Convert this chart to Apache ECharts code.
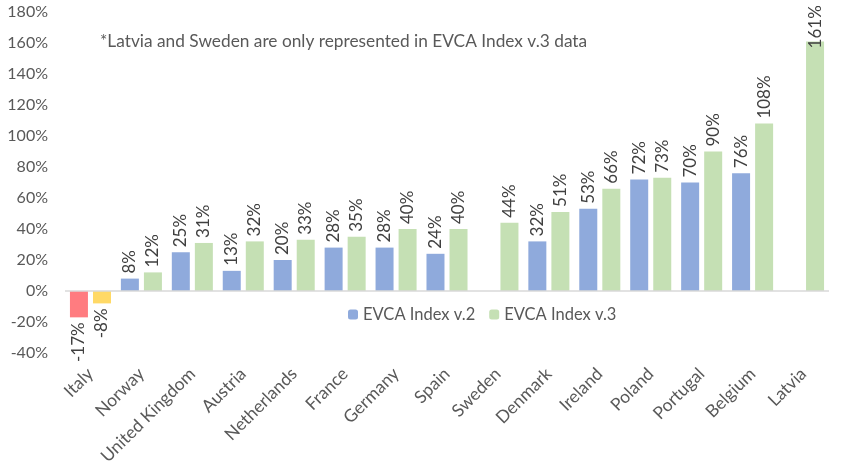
<!DOCTYPE html>
<html><head><meta charset="utf-8">
<script src="https://cdn.jsdelivr.net/npm/echarts@6/dist/echarts.min.js"></script>
<style>html,body{margin:0;padding:0;background:#fff}#c{width:848px;height:470px}</style>
</head><body><div id="c"></div>
<script>
const categories = ['Italy','Norway','United Kingdom','Austria','Netherlands','France','Germany','Spain','Sweden','Denmark','Ireland','Poland','Portugal','Belgium','Latvia'];
const v2 = [-17, 8, 25, 13, 20, 28, 28, 24, null, 32, 53, 72, 70, 76, null];
const v3 = [-8, 12, 31, 32, 33, 35, 40, 40, 44, 51, 66, 73, 90, 108, 161];
const yTicks = {min: -40, max: 180, interval: 20};
const note = '*Latvia and Sweden are only represented in EVCA Index v.3 data';

const FONT = 'Lato';
const blue = '#8FAADC', green = '#C5E0B4', red = '#FF7C80', yellow = '#FFD966';

function mk(arr, negColor) {
  return arr.map(v => {
    if (v === null) return null;
    const item = {value: v};
    if (v < 0) {
      item.itemStyle = {color: negColor};
      item.label = {position: 'bottom', align: 'right'};
    } else if (v > yTicks.max - 30) {
      // label would not fit above the bar: pull it down into the bar top
      item.label = {distance: -7};
    }
    return item;
  });
}
const lbl = {
  show: true, position: 'top', rotate: 90, align: 'left', verticalAlign: 'middle',
  distance: 5, color: '#404040', fontSize: 17, fontFamily: FONT,
  formatter: p => p.value + '%'
};
const chart = echarts.init(document.getElementById('c'), null, {renderer: 'canvas'});
chart.setOption({
  animation: false,
  textStyle: {fontFamily: FONT},
  grid: {left: 65, right: 19, top: 12, bottom: 117},
  legend: {
    data: ['EVCA Index v.2', 'EVCA Index v.3'],
    left: 343, top: 301, itemWidth: 10, itemHeight: 10, itemGap: 14,
    textStyle: {color: '#595959', fontSize: 16.5, fontFamily: FONT}
  },
  graphic: [{type: 'text', left: 100, top: 33, style: {text: note, fill: '#595959', font: '17.3px ' + FONT}}],
  xAxis: {
    type: 'category', data: categories,
    axisLine: {show: false, onZero: false}, axisTick: {show: false},
    axisLabel: {rotate: 45, margin: 18, color: '#595959', fontSize: 17.5, fontFamily: FONT, interval: 0}
  },
  yAxis: {
    type: 'value', min: yTicks.min, max: yTicks.max, interval: yTicks.interval,
    splitLine: {show: false}, axisLine: {show: false}, axisTick: {show: false},
    axisLabel: {formatter: '{value}%', margin: 17, color: '#595959', fontSize: 16, fontFamily: FONT}
  },
  series: [
    {name: 'EVCA Index v.2', type: 'bar', data: mk(v2, red), barWidth: 18, barGap: '28%',
     itemStyle: {color: blue}, label: lbl,
     markLine: {silent: true, symbol: 'none', label: {show: false},
       lineStyle: {color: '#D9D9D9', width: 1.5, type: 'solid'}, data: [{yAxis: 0}]}},
    {name: 'EVCA Index v.3', type: 'bar', data: mk(v3, yellow), barWidth: 18,
     itemStyle: {color: green}, label: lbl}
  ]
});
</script></body></html>
